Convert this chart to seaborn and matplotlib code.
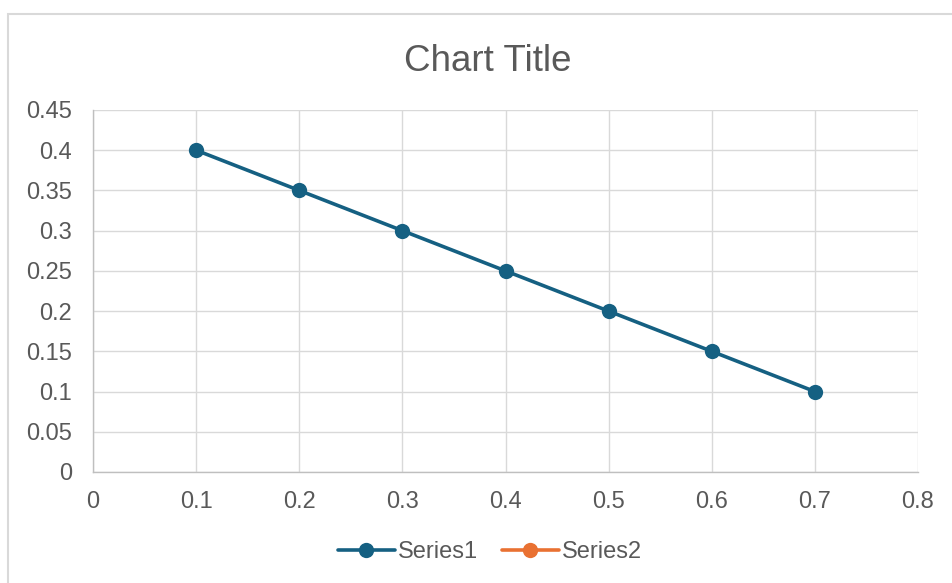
import numpy as np
import pandas as pd
import matplotlib
matplotlib.use('Agg')
import matplotlib.pyplot as plt
import seaborn as sns
from matplotlib.patches import Rectangle

# Chart values
x_values = [0.1, 0.2, 0.3, 0.4, 0.5, 0.6, 0.7]
series1 = [0.4, 0.35, 0.3, 0.25, 0.2, 0.15, 0.1]
series2 = []  # empty series, shown only in the legend

x_ticks = [0, 0.1, 0.2, 0.3, 0.4, 0.5, 0.6, 0.7, 0.8]
x_tick_labels = ['0', '0.1', '0.2', '0.3', '0.4', '0.5', '0.6', '0.7', '0.8']
y_ticks = [0, 0.05, 0.1, 0.15, 0.2, 0.25, 0.3, 0.35, 0.4, 0.45]
y_tick_labels = ['0', '0.05', '0.1', '0.15', '0.2', '0.25', '0.3', '0.35', '0.4', '0.45']

blue = '#156082'
orange = '#E97132'
text_color = '#595959'
grid_color = '#D9D9D9'

sns.set_theme(style='white')
plt.rcParams['font.family'] = ['Liberation Sans', 'DejaVu Sans']

fig = plt.figure(figsize=(9.52, 5.83), dpi=100)
ax = fig.add_axes([93 / 952, 1 - 472 / 583, (918 - 93) / 952, (472 - 110) / 583])

# chart frame (extends past right/bottom edge like the screenshot)
fig.patches.append(Rectangle((8 / 952, -0.05), 1.1, 1 - 14 / 583 + 0.05,
                             transform=fig.transFigure, fill=False,
                             edgecolor=grid_color, linewidth=1.5, zorder=0))

df = pd.DataFrame({'x': x_values, 'y': series1})
sns.lineplot(data=df, x='x', y='y', ax=ax, color=blue, linewidth=2.6,
             marker='o', markersize=11, markeredgewidth=0, label='Series1',
             legend=False, zorder=3)
ax.plot(series2, series2, color=orange, linewidth=2.6, marker='o',
        markersize=11, markeredgewidth=0, label='Series2')

ax.set_xlim(0, 0.8)
ax.set_ylim(0, 0.45)
ax.set_xticks(x_ticks)
ax.set_xticklabels(x_tick_labels)
ax.set_yticks(y_ticks)
ax.set_yticklabels(y_tick_labels)
ax.set_xlabel('')
ax.set_ylabel('')
ax.tick_params(axis='both', length=0, labelsize=17, labelcolor=text_color)
ax.tick_params(axis='x', pad=14)
ax.tick_params(axis='y', pad=15)

ax.grid(True, color=grid_color, linewidth=1.0)
ax.set_axisbelow(True)
for side in ['top', 'right']:
    ax.spines[side].set_visible(False)
for side in ['left', 'bottom']:
    ax.spines[side].set_color('#BFBFBF')
    ax.spines[side].set_linewidth(1.0)

fig.text(0.512, 1 - 71 / 583, 'Chart Title', ha='center', va='baseline',
         fontsize=26.5, color=text_color)

handles, labels = ax.get_legend_handles_labels()
fig.legend(handles, labels, loc='center', bbox_to_anchor=(0.515, 1 - 552 / 583),
           ncol=2, frameon=False, fontsize=17, labelcolor=text_color,
           handlelength=2.4, handletextpad=0.15, columnspacing=1.0)

fig.savefig('out.png', dpi=100)
